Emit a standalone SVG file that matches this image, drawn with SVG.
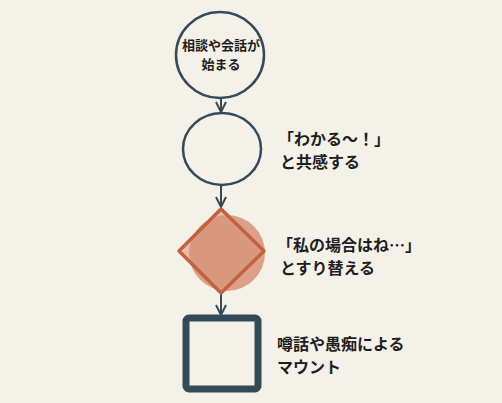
<svg xmlns="http://www.w3.org/2000/svg" width="502" height="403" viewBox="0 0 502 403">
<defs>
<style>
.bg{fill:#F4F1E8}
.node{fill:none;stroke:#344A59;stroke-width:2.5}
.t{font-family:"Noto Sans CJK JP","Noto Sans",sans-serif;font-weight:bold;fill:#1E1E1E}
.conn{stroke:#344A59;stroke-width:2;fill:none}
</style>
<marker id="arr" viewBox="0 0 12 12" refX="11" refY="6" markerWidth="12" markerHeight="12" markerUnits="userSpaceOnUse" orient="auto">
<path d="M1,1 L11,6 L1,11" fill="none" stroke="#344A59" stroke-width="2"/>
</marker>
</defs>
<rect class="bg" x="0" y="0" width="502" height="403"/>
<g id="connectors">
<line class="conn" x1="221" y1="98" x2="221" y2="112" marker-end="url(#arr)"/>
<line class="conn" x1="221" y1="186" x2="221" y2="207" marker-end="url(#arr)"/>
<line class="conn" x1="221" y1="294" x2="221" y2="315" marker-end="url(#arr)"/>
</g>
<g id="node1">
<ellipse class="node" cx="220" cy="55" rx="44" ry="43"/>
<text class="t" x="221" y="50" font-size="13" text-anchor="middle">相談や会話が</text>
<text class="t" x="221" y="69" font-size="13" text-anchor="middle">始まる</text>
</g>
<g id="node2">
<ellipse class="node" cx="222" cy="149" rx="39" ry="36"/>
<text class="t" x="278" y="145" font-size="16">「わかる〜！」</text>
<text class="t" x="280" y="168" font-size="16">と共感する</text>
</g>
<g id="node3">
<circle cx="227" cy="253" r="38" fill="#D9967C" opacity="0.9"/>
<polygon points="221,209 264,251 221,293 179,251" fill="#D99479" fill-opacity="0.55" stroke="#C4623F" stroke-width="3.5" stroke-linejoin="round"/>
<text class="t" x="277" y="251" font-size="16">「私の場合はね…」</text>
<text class="t" x="280" y="274" font-size="16">とすり替える</text>
</g>
<g id="node4">
<rect x="186" y="318" width="72" height="71" rx="3" fill="none" stroke="#344A59" stroke-width="7"/>
<text class="t" x="277" y="350" font-size="16">噂話や愚痴による</text>
<text class="t" x="277" y="373" font-size="16">マウント</text>
</g>
</svg>
